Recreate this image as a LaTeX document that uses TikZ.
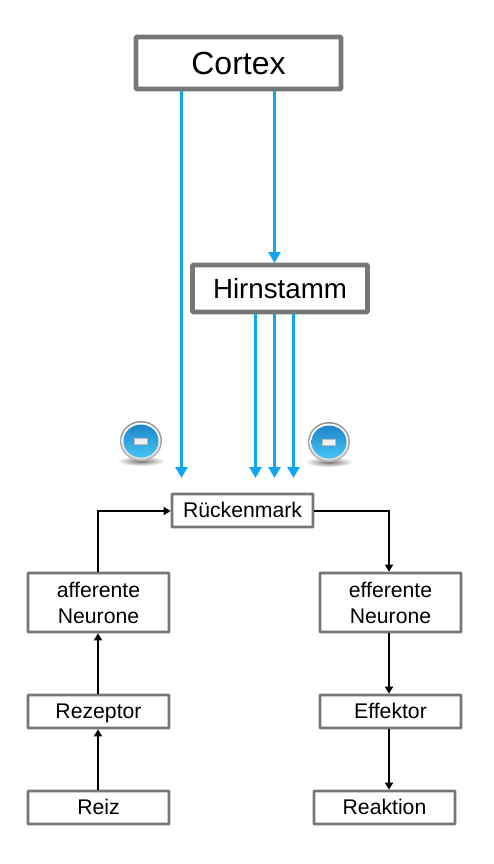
\documentclass[tikz,border=0pt]{standalone}
\usepackage{fontspec}
\setmainfont{Liberation Sans}
\usetikzlibrary{arrows.meta,calc,fadings}
\definecolor{boxgrey}{HTML}{767676}
\definecolor{inhib}{HTML}{0FA8F0}
\definecolor{icontop}{HTML}{1E86C8}
\definecolor{iconmid}{HTML}{2BA3E0}
\definecolor{iconbot}{HTML}{45C4F4}
\tikzset{
  box/.style={draw=boxgrey,fill=white,line width=2.7pt,rounded corners=0.5pt,align=center,inner sep=0pt,font=\fontsize{21.2}{26}\selectfont,text=black},
  onerow/.style={box,minimum width=141pt,minimum height=33pt,text height=18pt,text depth=4pt},
  tworow/.style={box,minimum width=141pt,minimum height=59pt},
  bigbox/.style={box,line width=4.8pt,rounded corners=1pt},
  inhibline/.style={draw=inhib,line width=3pt,-{Triangle[length=11pt,width=12pt]}},
  conn/.style={draw=black,line width=2pt,-{Triangle[length=7pt,width=8pt]}},
  pics/minus/.style={code={
    \shade[inner color=black!55,outer color=white] (0,20) ellipse [x radius=24,y radius=5];
    \shade[top color=gray!90,bottom color=gray!55] (0,0) ellipse [x radius=21,y radius=20];
    \shade[top color=white,bottom color=white!70!gray] (0,0) ellipse [x radius=19.5,y radius=18.5];
    \shade[top color=icontop,middle color=iconmid,bottom color=iconbot] (0,0) ellipse [x radius=17.5,y radius=16.5];
    \fill[white!88!gray,draw=gray!55,line width=.7pt] (-6.5,-2.5) rectangle (6.5,3.5);
  }}
}
\begin{document}
\begin{tikzpicture}[x=1pt,y=-1pt]
\useasboundingbox (0,0) rectangle (494,864);
% nodes
\node[bigbox,font=\fontsize{32}{36}\selectfont,minimum width=205pt,minimum height=52pt] (cortex) at (238.5,63) {Cortex};
\node[bigbox,font=\fontsize{27.7}{32}\selectfont,minimum width=175pt,minimum height=47pt] (hirn) at (280,288.5) {Hirnstamm};
\node[onerow] (rueck) at (242.5,510.5) {Rückenmark};
\node[tworow] (aff) at (98.5,602.5) {afferente\\Neurone};
\node[tworow] (eff) at (390.5,602.5) {efferente\\Neurone};
\node[onerow] (rez) at (98.5,711.5) {Rezeptor};
\node[onerow] (effk) at (390.5,711.5) {Effektor};
\node[onerow] (reiz) at (98.5,807.5) {Reiz};
\node[onerow] (reak) at (384.5,807.5) {Reaktion};
% free ends
\coordinate (endA) at (181.5,478);
\coordinate (endB) at (255.5,478);
\coordinate (endC) at (274.5,478);
\coordinate (endD) at (293.5,478);
\coordinate (cortB) at (274.5,263);
% blue connectors
\draw[inhibline] (cortex.south -| endA) -- (endA);
\draw[inhibline] (cortex.south -| cortB) -- (cortB);
\draw[inhibline] (hirn.south -| endB) -- (endB);
\draw[inhibline] (hirn.south -| endC) -- (endC);
\draw[inhibline] (hirn.south -| endD) -- (endD);
% black connectors
\draw[conn] ($(reiz.north)+(-.5,0)$) -- ($(rez.south)+(-.5,0)$);
\draw[conn] ($(rez.north)+(-.5,0)$) -- ($(aff.south)+(-.5,0)$);
\draw[conn] ($(aff.north)+(-.5,0)$) |- ($(rueck.west)+(0,.5)$);
\draw[conn] ($(rueck.east)+(0,.5)$) -| ($(eff.north)+(-1.5,0)$);
\draw[conn] ($(eff.south)+(-1.5,0)$) -- ($(effk.north)+(-1.5,0)$);
\draw[conn] ($(effk.south)+(-1.5,0)$) -- ($(reak.north -| effk.south)+(-1.5,0)$);
% icons
\pic at (141,441) {minus};
\pic at (329,442) {minus};
\end{tikzpicture}
\end{document}
